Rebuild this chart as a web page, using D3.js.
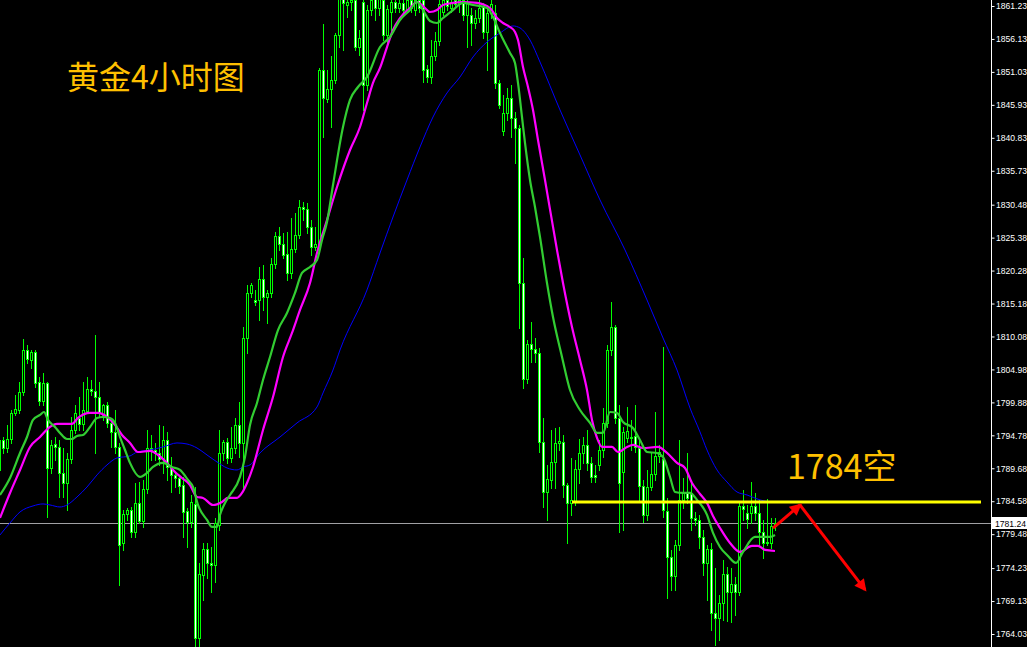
<!DOCTYPE html>
<html><head><meta charset="utf-8">
<script src="https://cdn.jsdelivr.net/npm/d3@7"></script>
<style>html,body{margin:0;padding:0;background:#000;overflow:hidden}svg{display:block}</style>
</head><body><svg id="c" width="1027" height="647"></svg>
<script>
// ---- data (4-hour gold candles) ----
const opens=[1789.4,1794.1,1792.8,1794.2,1798.2,1798.7,1801.5,1808.0,1806.4,1807.7,1803.0,1800.1,1802.9,1789.7,1793.4,1793.0,1789.0,1787.4,1791.1,1795.6,1797.5,1796.5,1798.5,1802.0,1801.6,1800.7,1797.9,1799.5,1796.7,1795.3,1793.0,1778.1,1782.6,1783.2,1779.8,1784.3,1781.5,1786.5,1792.8,1792.5,1792.0,1791.1,1794.1,1789.9,1788.6,1788.2,1787.1,1783.1,1781.4,1784.2,1763.4,1773.2,1777.2,1775.0,1774.7,1780.9,1792.0,1793.8,1791.3,1792.8,1796.4,1793.6,1809.8,1816.8,1815.7,1815.7,1819.0,1816.2,1816.8,1821.3,1825.6,1824.4,1822.9,1819.9,1823.6,1825.8,1830.1,1829.8,1827.0,1823.9,1823.9,1851.3,1846.8,1848.4,1849.8,1856.8,1862.6,1861.4,1861.9,1862.2,1854.9,1861.9,1849.0,1860.6,1862.5,1860.9,1862.2,1856.8,1860.3,1861.9,1860.9,1861.7,1860.6,1862.2,1860.6,1862.2,1862.2,1851.5,1850.2,1853.5,1855.8,1860.3,1862.2,1860.9,1862.2,1861.5,1862.2,1859.8,1859.8,1858.6,1859.4,1861.1,1857.2,1860.2,1860.2,1849.3,1841.9,1844.7,1847.0,1843.9,1842.4,1818.4,1803.5,1808.9,1808.1,1807.5,1793.8,1786.0,1787.9,1790.7,1793.6,1793.8,1787.1,1784.3,1784.6,1789.6,1792.1,1793.3,1790.5,1788.7,1790.2,1792.5,1796.7,1808.0,1811.5,1797.5,1789.1,1794.4,1794.5,1794.7,1792.8,1786.9,1782.5,1786.8,1788.8,1791.6,1791.1,1783.1,1776.0,1773.0,1777.8,1784.8,1785.9,1785.9,1782.0,1781.7,1779.1,1775.0,1777.2,1767.3,1766.5,1768.8,1773.3,1770.5,1771.8,1770.5,1783.9,1782.8,1782.8,1783.9,1782.8,1779.8,1778.1,1778.1,1780.8];
const highs=[1794.8,1794.5,1796.4,1798.7,1801.0,1803.0,1809.7,1808.8,1808.0,1808.0,1803.8,1804.4,1803.0,1794.1,1794.5,1794.1,1792.8,1792.0,1797.6,1799.5,1800.7,1803.0,1803.8,1803.3,1810.3,1803.0,1799.6,1799.9,1797.2,1798.7,1793.6,1783.2,1783.5,1783.7,1787.4,1787.6,1787.9,1795.6,1794.8,1793.6,1796.4,1796.2,1795.3,1791.4,1789.0,1788.6,1788.3,1783.5,1785.5,1786.8,1775.0,1778.1,1778.1,1777.5,1782.0,1795.6,1794.1,1794.4,1796.1,1797.5,1799.9,1811.5,1818.1,1818.4,1817.3,1820.8,1821.2,1817.3,1822.2,1826.3,1827.0,1826.1,1826.3,1828.4,1829.2,1831.2,1830.9,1830.8,1828.1,1827.0,1851.6,1858.4,1851.3,1853.5,1857.1,1863.7,1864.0,1862.9,1862.9,1862.9,1857.5,1862.6,1861.4,1862.9,1863.4,1862.9,1862.9,1861.4,1862.8,1862.6,1862.2,1862.5,1862.6,1862.9,1862.6,1862.9,1862.9,1852.1,1856.0,1857.2,1862.2,1862.9,1862.9,1862.6,1862.9,1862.6,1862.6,1862.5,1860.9,1860.6,1862.2,1861.7,1861.4,1862.2,1861.4,1849.8,1847.5,1848.5,1849.0,1844.8,1842.8,1822.2,1809.5,1812.3,1809.9,1808.3,1797.5,1790.2,1795.6,1795.9,1796.1,1794.8,1787.4,1791.3,1791.0,1794.2,1794.5,1795.6,1791.4,1790.2,1794.1,1799.0,1808.8,1815.4,1811.9,1799.5,1796.1,1799.2,1797.2,1799.5,1794.1,1787.9,1789.4,1792.2,1798.4,1793.3,1808.5,1785.1,1777.0,1778.6,1794.1,1788.2,1792.1,1787.9,1782.9,1782.5,1780.1,1777.8,1778.1,1774.3,1770.1,1775.5,1774.4,1774.3,1772.9,1784.3,1786.3,1784.0,1787.6,1785.9,1784.8,1781.7,1784.9,1782.0,1782.0];
const lows=[1788.6,1792.0,1792.2,1793.6,1797.9,1798.2,1801.0,1806.0,1805.2,1802.3,1799.5,1799.5,1782.1,1789.0,1791.0,1785.2,1785.2,1783.2,1790.5,1795.1,1795.6,1795.6,1798.2,1801.0,1792.0,1797.6,1797.2,1796.1,1793.0,1792.0,1771.6,1777.0,1781.7,1779.1,1779.1,1781.2,1780.6,1785.9,1791.0,1791.0,1790.2,1789.0,1787.9,1786.0,1786.8,1785.9,1779.1,1777.5,1780.6,1762.0,1761.6,1769.3,1772.7,1770.5,1772.1,1780.1,1791.0,1790.5,1790.7,1792.0,1791.4,1786.3,1807.5,1816.2,1815.0,1812.6,1814.2,1812.2,1816.2,1820.7,1823.5,1822.2,1818.8,1819.1,1823.2,1825.3,1828.1,1826.1,1822.7,1823.5,1823.5,1841.0,1846.4,1842.5,1849.3,1854.9,1854.4,1859.5,1860.6,1854.4,1853.7,1845.1,1848.2,1859.8,1859.1,1859.8,1856.0,1855.2,1857.5,1860.3,1860.3,1860.0,1860.3,1860.3,1859.8,1860.3,1849.5,1849.5,1849.3,1852.9,1855.2,1859.8,1860.6,1860.3,1860.9,1860.3,1859.1,1854.9,1855.2,1857.8,1858.8,1856.3,1851.3,1859.4,1848.5,1845.5,1841.3,1843.6,1841.0,1836.9,1811.4,1802.1,1802.9,1806.1,1806.1,1792.2,1783.7,1781.7,1786.6,1786.6,1792.5,1785.2,1778.1,1782.5,1784.0,1787.4,1790.5,1789.4,1787.6,1787.6,1789.4,1791.4,1796.1,1807.2,1796.7,1779.8,1780.1,1793.8,1792.5,1792.2,1784.8,1781.4,1781.7,1786.3,1787.9,1790.7,1782.1,1769.6,1770.9,1770.9,1777.0,1783.5,1784.3,1780.1,1780.9,1777.4,1773.2,1769.3,1764.7,1762.3,1763.1,1766.2,1766.1,1765.9,1767.0,1770.1,1781.7,1780.4,1781.2,1781.7,1777.8,1775.8,1777.8,1777.4,1780.1];
const closes=[1794.1,1792.8,1794.2,1798.2,1798.9,1801.5,1808.0,1806.6,1807.7,1802.9,1800.1,1802.9,1789.7,1793.3,1793.0,1789.0,1787.4,1791.1,1795.6,1798.2,1796.5,1798.7,1802.0,1801.6,1800.7,1798.2,1799.5,1796.7,1795.3,1793.0,1777.8,1782.6,1783.2,1779.8,1784.3,1781.5,1786.5,1792.8,1792.4,1792.0,1791.1,1794.1,1789.9,1788.6,1788.2,1786.9,1782.9,1781.4,1784.5,1763.4,1773.3,1777.2,1775.0,1774.7,1781.2,1792.0,1793.8,1791.3,1792.8,1796.4,1793.6,1809.8,1816.8,1818.1,1815.4,1819.0,1816.2,1816.8,1821.3,1825.6,1824.4,1822.7,1819.9,1823.6,1825.8,1830.1,1829.8,1827.0,1823.9,1824.4,1851.3,1847.0,1848.4,1849.8,1856.8,1862.6,1861.7,1861.9,1862.2,1854.9,1856.3,1849.0,1860.6,1862.2,1860.9,1862.5,1856.8,1860.8,1861.9,1860.9,1861.7,1860.6,1862.2,1860.9,1862.2,1860.9,1851.3,1850.2,1853.5,1855.8,1861.5,1862.2,1861.2,1861.9,1861.5,1862.2,1859.8,1861.7,1858.6,1859.4,1860.9,1857.2,1860.2,1861.5,1849.3,1845.9,1844.7,1847.0,1843.9,1842.4,1818.4,1803.5,1808.9,1808.1,1807.5,1793.8,1786.0,1788.0,1790.7,1793.6,1793.9,1787.1,1784.3,1784.8,1789.6,1792.1,1793.3,1790.5,1788.3,1788.3,1792.5,1796.7,1808.0,1811.5,1797.5,1787.4,1795.3,1795.5,1794.4,1793.0,1786.9,1782.5,1786.8,1788.8,1791.6,1792.2,1783.2,1776.0,1773.0,1777.8,1784.8,1785.9,1785.1,1782.0,1781.7,1779.1,1775.0,1777.2,1767.3,1766.5,1768.8,1773.3,1770.5,1771.8,1770.5,1783.9,1783.4,1781.8,1783.9,1782.8,1779.8,1778.1,1778.3,1780.8,1781.24];

// moving averages, sampled (candle index, price)
const maFastIdx=[0.25,2.75,5.25,7,8.5,10.25,11.25,12.25,14,15.25,17,18.25,19.5,21,22.75,24.5,26,27.75,29,30.25,31.5,32.75,35.25,37,38.5,41,43.25,45.25,47.25,48.5,49.75,52,53.25,54.5,55.25,56.5,57.75,60.25,61.5,62.75,64.5,66,67.75,69.75,72,74,75.75,77.75,79.5,80.75,82,83.5,86,87.75,89.75,92,95.25,97.75,100.25,102.75,104.5,106,107.75,109.5,111,113.5,116,118.5,122,123.5,125.25,127.75,129,129.75,130.75,131.5,132.75,134,135.25,137,138.5,140.75,142.75,145.25,147.75,149.5,151,152.75,154.5,156,158.5,160.25,162,164.5,166,167.75,169,171,172.75,174.5,177,178.5,180.25,182.25,184.25,186,189,191,192.75,194];
const maFastVal=[1785.55,1788.18,1792.05,1794.52,1797.16,1797.93,1798.39,1797.16,1796.08,1795.15,1794.21,1794.21,1794.68,1794.84,1796.08,1797.47,1797.62,1797.47,1796.7,1794.52,1792.51,1790.51,1788.34,1788.96,1789.88,1790.51,1789.88,1789.42,1787.87,1786.78,1784.0,1781.68,1780.6,1780.6,1782.46,1784.32,1785.55,1788.34,1791.43,1796.39,1799.79,1803.35,1806.9,1811.08,1813.72,1816.82,1819.91,1820.83,1821.92,1825.01,1827.8,1833.53,1842.5,1846.69,1848.69,1850.24,1854.88,1856.43,1859.06,1860.61,1861.85,1860.61,1858.91,1858.6,1859.37,1860.61,1861.7,1861.39,1860.92,1859.53,1857.05,1853.96,1852.41,1849.32,1844.05,1840.03,1834.3,1830.12,1825.48,1818.36,1813.1,1806.91,1801.8,1798.7,1796.7,1795.15,1795.15,1798.39,1798.24,1796.85,1795.92,1794.06,1792.2,1792.05,1791.43,1788.34,1786.01,1785.86,1785.86,1784.78,1782.46,1779.67,1777.5,1776.11,1775.03,1776.73,1779.05,1779.05,1779.05,1779.36];
const maMidIdx=[0.25,2.75,5.25,7.75,10.25,12.75,14.5,18.25,19.75,22.75,24.75,27,29,30.75,32.75,34.75,37.75,39.75,42,44,45.75,47.75,49.5,51,53.5,55.75,57.25,59.5,60.75,62,63.5,66,68.5,71,73.25,75.25,77.75,79.5,82,84.5,87.75,90.25,92,93.5,95.25,97,98.5,100.25,102.75,104.5,106.5,107.75,109.5,111,113.5,116,119.5,122.75,124.5,126,127.75,129,129.75,131,132.25,133.5,134.75,136.5,139.5,141,143.25,145.25,147,148.25,149.5,150.75,153.25,154.75,157,158.5,161,164.75,167,169.5,171.5,173.25,175.25,177,178.5,180.25,182.75,185.25,188.25,189.75,191.5,194];
const maMidVal=[1781.99,1785.86,1789.42,1792.98,1794.52,1796.08,1796.54,1796.54,1797.47,1798.24,1798.24,1797.62,1796.39,1794.84,1793.6,1792.2,1792.36,1791.74,1790.51,1789.11,1788.18,1787.09,1785.24,1785.09,1784.0,1784.47,1785.09,1785.09,1785.86,1787.41,1789.88,1795.61,1800.71,1806.91,1810.62,1814.18,1818.36,1823.0,1828.11,1833.22,1838.94,1842.5,1846.22,1849.32,1851.64,1854.88,1857.52,1859.37,1860.92,1861.85,1860.92,1860.3,1860.61,1861.39,1861.7,1861.85,1861.7,1860.92,1859.37,1858.6,1857.98,1857.21,1855.97,1851.79,1848.69,1845.14,1840.49,1834.3,1823.47,1818.36,1811.54,1806.44,1801.8,1797.16,1794.37,1792.98,1792.98,1792.2,1792.98,1793.29,1792.82,1792.98,1792.05,1790.51,1789.73,1787.41,1785.7,1784.32,1782.3,1780.44,1778.12,1776.73,1777.66,1777.66,1777.04,1776.88];
const maSlowIdx=[0.25,2.75,5.25,8.5,11,12.75,15.25,17,19.5,22,24.5,27,29.5,32.75,34.5,37.75,41,44.5,47,49.5,52,54.5,57,59.5,61,62.75,65.25,70.25,74.5,79.5,81,83.5,85.25,92,95.25,98.5,102,105.25,108.5,112,115.25,118.5,122,125.25,128.5,130.25,132.75,135.25,140.25,145.25,150.25,156.5,162,166,169.5,172.75,175.25,177,179.5,182,184.5,187,190.25,192.75];
const maSlowVal=[1779.36,1781.22,1782.92,1783.85,1784.16,1784.0,1783.69,1784.0,1785.24,1786.78,1788.65,1790.2,1791.28,1791.59,1792.2,1792.51,1792.98,1793.6,1793.44,1792.82,1791.74,1790.66,1789.73,1789.42,1789.88,1790.2,1792.05,1794.52,1796.7,1799.17,1801.34,1804.89,1807.99,1817.28,1823.0,1828.57,1834.3,1839.41,1844.05,1847.77,1850.24,1853.34,1855.66,1857.05,1858.14,1857.83,1855.97,1852.56,1845.14,1838.17,1831.21,1823.47,1815.73,1809.85,1804.89,1799.01,1795.3,1792.51,1789.42,1787.56,1786.01,1785.55,1784.78,1784.47];

const tickLabels=["1861.23","1856.13","1851.03","1845.93","1840.83","1835.73","1830.48","1825.38","1820.28","1815.18","1810.08","1804.98","1799.88","1794.78","1789.68","1784.58","1779.48","1774.23","1769.13","1764.03"];
const lastPrice=1781.24;
const levelPrice=1784.5, levelStartIdx=143.25;
const arrowIdx=[193.5,200.25,216.5];
const arrowVal=[1780.4,1784.0,1770.9];
const titleText="黄金4小时图";
const noteText="1784空";

// ---- drawing ----
const W=1027,H=647,axisX=991;
const svg=d3.select("#c");
svg.append("rect").attr("width",W).attr("height",H).attr("fill","#000");
const x=d3.scaleLinear().domain([0,194]).range([-1,775]);
const y=d3.scaleLinear().domain([1764.03,1861.23]).range([634,6]);

const defs=svg.append("defs");
defs.append("clipPath").attr("id","plot").append("rect").attr("x",0).attr("y",0).attr("width",axisX).attr("height",H);
const plot=svg.append("g").attr("clip-path","url(#plot)");

// bid line
const yb=Math.round(y(lastPrice))+0.5;
plot.append("line").attr("x1",0).attr("x2",axisX).attr("y1",yb).attr("y2",yb).attr("stroke","#a0a0a4").attr("stroke-width",1);

// candles
const cg=plot.append("g");
opens.forEach((o,i)=>{
  const c=closes[i];
  const cx=Math.round(x(i));
  const yh=Math.round(y(highs[i])), yl=Math.round(y(lows[i]));
  const top=Math.round(y(Math.max(o,c))), bot=Math.round(y(Math.min(o,c)));
  cg.append("rect").attr("x",cx).attr("y",yh).attr("width",1).attr("height",Math.max(1,yl-yh+1)).attr("fill","#00ff00");
  cg.append("rect").attr("x",cx-1).attr("y",top).attr("width",3).attr("height",Math.max(1,bot-top+1)).attr("fill","#00ff00");
  if(bot-top>=2){
    cg.append("rect").attr("x",cx).attr("y",top+1).attr("width",1).attr("height",bot-top-1).attr("fill",c<o?"#ffffff":"#000000");
  }
});

// moving averages
const line=d3.line().x(d=>x(d[0])).y(d=>y(d[1])).curve(d3.curveMonotoneX);
plot.append("path").datum(d3.zip(maSlowIdx,maSlowVal)).attr("d",line).attr("fill","none").attr("stroke","#0000ff").attr("stroke-width",1);
plot.append("path").datum(d3.zip(maMidIdx,maMidVal)).attr("d",line).attr("fill","none").attr("stroke","#ff00ff").attr("stroke-width",2.2);
plot.append("path").datum(d3.zip(maFastIdx,maFastVal)).attr("d",line).attr("fill","none").attr("stroke","#32cd32").attr("stroke-width",2.2);

// yellow level line
const yl=Math.round(y(levelPrice));
plot.append("line").attr("x1",Math.round(x(levelStartIdx))).attr("x2",981).attr("y1",yl).attr("y2",yl).attr("stroke","#ffff00").attr("stroke-width",3);

// red arrows
defs.append("marker").attr("id","ah").attr("viewBox","0 0 10 10").attr("refX",8).attr("refY",5)
  .attr("markerWidth",13).attr("markerHeight",12).attr("markerUnits","userSpaceOnUse").attr("orient","auto")
  .append("path").attr("d","M0,0 L10,5 L0,10 z").attr("fill","#ff0000");
for(let k=0;k<2;k++){
  plot.append("line").attr("x1",x(arrowIdx[k])).attr("y1",y(arrowVal[k])).attr("x2",x(arrowIdx[k+1])).attr("y2",y(arrowVal[k+1]))
    .attr("stroke","#ff0000").attr("stroke-width",3).attr("marker-end","url(#ah)");
}

// texts
svg.append("text").attr("x",67).attr("y",89).attr("font-family","'Noto Sans CJK SC','Noto Sans',sans-serif").attr("font-size",32).attr("fill","#ffc000").text(titleText);
svg.append("text").attr("x",787).attr("y",479).attr("font-family","'Noto Sans CJK SC','Noto Sans',sans-serif").attr("font-size",34).attr("fill","#ffc000").text(noteText);

// price axis
const ag=svg.append("g").attr("transform",`translate(${axisX},0)`);
ag.append("line").attr("x1",0.5).attr("x2",0.5).attr("y1",0).attr("y2",H).attr("stroke","#ffffff");
const axis=d3.axisRight(y).tickValues(tickLabels.map(Number)).tickFormat((d,i)=>tickLabels[i]).tickSize(3).tickSizeOuter(0).tickPadding(2);
const axg=ag.append("g").call(axis);
axg.select(".domain").remove();
axg.selectAll(".tick line").attr("stroke","#ffffff").attr("transform","translate(0.5,0)");
axg.selectAll(".tick text").attr("fill","#ffffff").attr("font-family","'Liberation Sans',Arial,sans-serif").attr("font-size",8.6);
// current price box
ag.append("rect").attr("x",1).attr("y",Math.round(y(lastPrice))-6).attr("width",W-axisX).attr("height",12).attr("fill","#ffffff");
ag.append("text").attr("x",4).attr("y",Math.round(y(lastPrice))+3.5).attr("font-family","'Liberation Sans',Arial,sans-serif").attr("font-size",8.6).attr("fill","#000").text(lastPrice.toFixed(2));
</script></body></html>
